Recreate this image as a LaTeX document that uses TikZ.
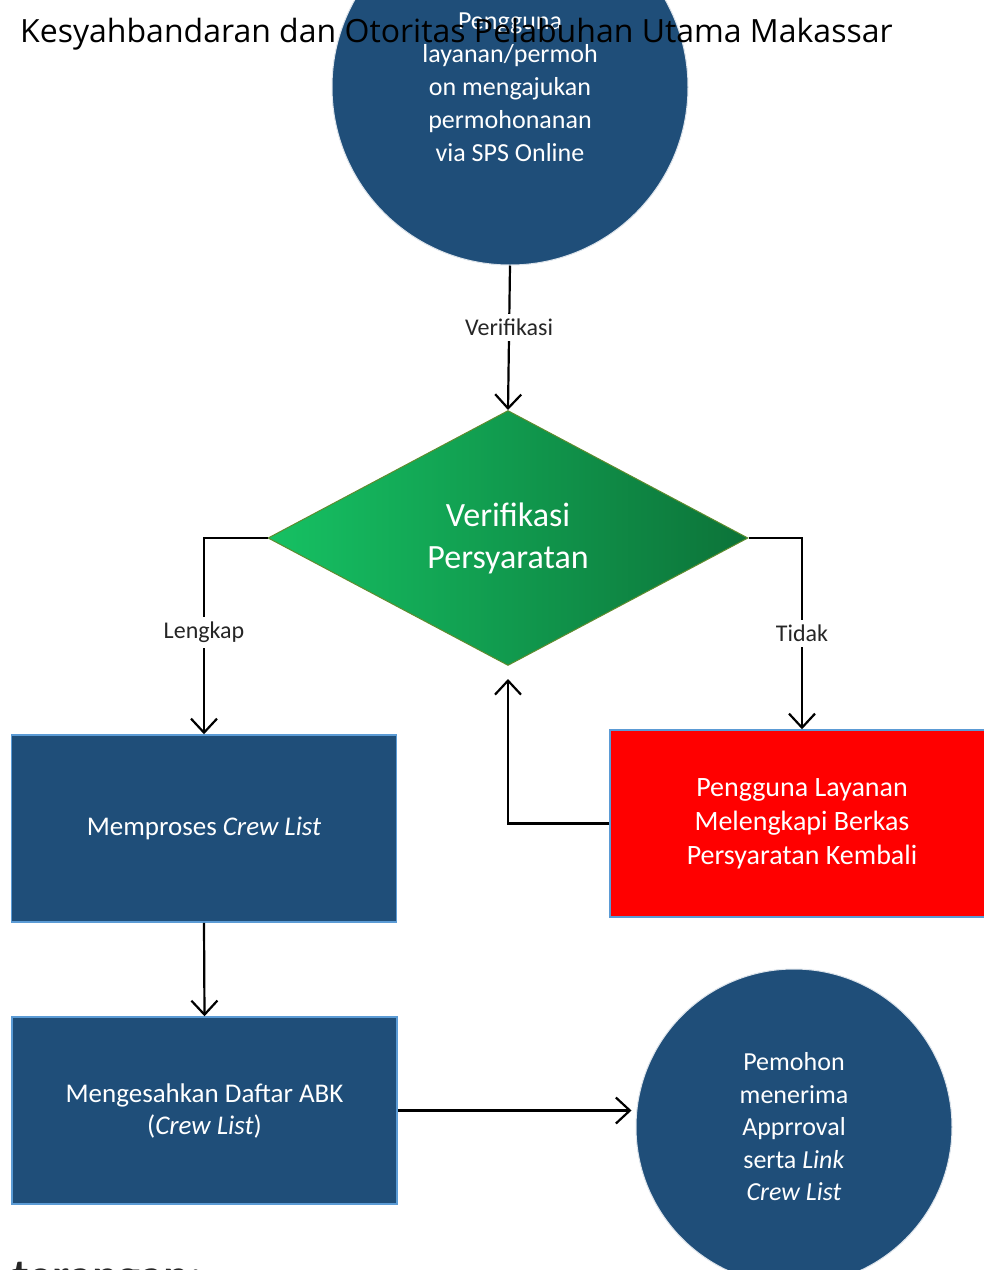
\documentclass[tikz,border=0pt]{standalone}
\usepackage{fontspec}
\setmainfont{Carlito}
\newfontfamily\titlefont{Open Sans}
\usetikzlibrary{shapes.geometric,arrows.meta}
\definecolor{navy}{HTML}{1F4E79}
\definecolor{edgeblue}{HTML}{5B9BD5}
\definecolor{gA}{HTML}{16C163}
\definecolor{gB}{HTML}{12A552}
\definecolor{gC}{HTML}{0C7339}
\definecolor{gEdge}{HTML}{5E8C2E}
\tikzset{
  flow/.style={draw=black, line width=2.2pt, -{Straight Barb[length=14pt,width=26pt,line width=2.2pt]}},
  lbl/.style={fill=white, text=black!85, font=\fontsize{24}{28}\selectfont, inner sep=5pt},
  roundnode/.style={circle, fill=navy, draw=white!85!navy, line width=1pt, text=white, align=center, font=\fontsize{26}{33}\selectfont},
  boxnode/.style={rectangle, fill=navy, draw=edgeblue, line width=1.5pt, text=white, align=center, minimum width=385pt, minimum height=187pt, font=\fontsize{27}{32}\selectfont},
  redbox/.style={rectangle, fill=red, draw=edgeblue, line width=1.5pt, text=white, align=center, minimum width=384pt, minimum height=187pt, font=\fontsize{28}{34}\selectfont},
  decision/.style={diamond, draw=gEdge, line width=1pt, left color=gA, middle color=gB, right color=gC, shading angle=90, text=white, align=center, minimum width=480pt, minimum height=255pt, inner sep=0pt, font=\fontsize{34}{42}\selectfont}
}
\begin{document}
\begin{tikzpicture}[x=1pt,y=-1pt]
\useasboundingbox (0,0) rectangle (984,1270);
\clip (0,0) rectangle (984,1270);
\fill[white] (0,0) rectangle (984,1270);

\node[roundnode, minimum size=356pt] (c1) at (510,87) {Pengguna\\layanan/permoh\\on mengajukan\\permohonanan\\via SPS Online};
\node[decision] (d) at (508,538) {Verifikasi\\Persyaratan};
\node[boxnode] (b1) at (204,828.5) {Memproses \textit{Crew List}};
\node[redbox] (r) at (802,823.5) {Pengguna Layanan\\Melengkapi Berkas\\Persyaratan Kembali};
\node[boxnode] (b2) at (204.5,1110.5) {Mengesahkan Daftar ABK\\(\textit{Crew List})};
\node[roundnode, minimum size=316pt, font=\fontsize{26}{32.5}\selectfont] (c2) at (794,1127) {Pemohon\\menerima\\Apprroval\\serta \textit{Link}\\\textit{Crew List}};

\draw[flow] (c1.south) -- node[lbl, pos=0.43] (lv) {Verifikasi} (d.north);
\draw[flow] (d.west) -| node[lbl, pos=0.74] (ll) {Lengkap} (b1.north);
\draw[flow] (d.east) -| node[lbl, pos=0.75] (lt) {Tidak} (r.north);
\draw[flow, shorten >=13pt] (r.west) -| (d.south);
\draw[flow] (b1.south) -- (b2.north);
\coordinate (c2in) at (b2.east -| c2.west);
\draw[flow, shorten >=4pt] (b2.east) -- (c2in);

\node[anchor=north west, inner sep=0pt, font=\bfseries\fontsize{48}{52}\selectfont, text=black!85] (ket) at (12,1262) {terangan:};

\node[anchor=west, inner sep=0pt, font=\titlefont\fontsize{32}{38}\selectfont] (title) at (20,34) {Kesyahbandaran dan Otoritas Pelabuhan Utama Makassar};
\end{tikzpicture}
\end{document}
